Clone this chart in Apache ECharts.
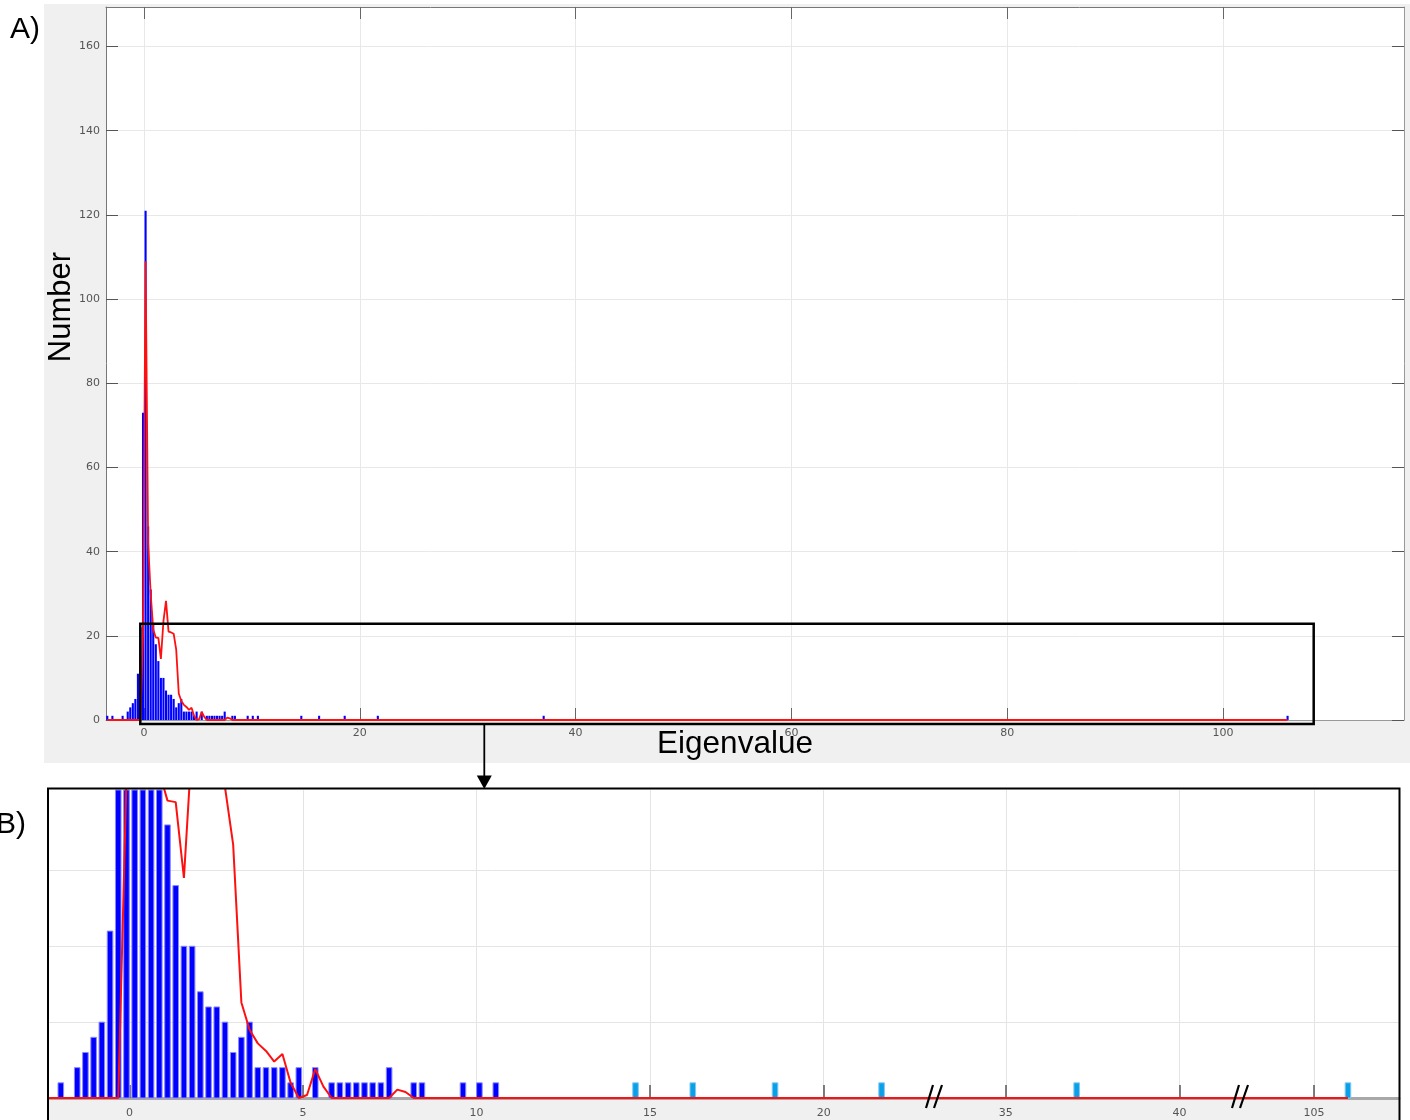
<!DOCTYPE html>
<html>
<head>
<meta charset="utf-8">
<script src="https://cdn.jsdelivr.net/npm/echarts@6/dist/echarts.min.js"></script>
<style>
  html, body { margin: 0; padding: 0; background: #fff; }
  #chart { width: 1410px; height: 1120px; }
</style>
</head>
<body>
<div id="chart"></div>
<script>
// Eigenvalue histogram: equal-width bins, the first one centred at firstBinCenter
const firstBinCenter = -3.399;
const binWidth = 0.2365;
const binCounts = [
  1, 0, 1, 0, 0, 0,
  1, 0, 2, 3, 4, 5, 11, 22, 73, 121,
  46, 31, 23, 18, 14, 10, 10, 7, 6, 6,
  5, 3, 4, 5, 2, 2, 2, 2, 1, 2,
  0, 2, 0, 1, 1, 1, 1, 1, 1, 1,
  2, 0, 0, 1, 1, 0, 0, 0, 0, 1,
  0, 1, 0, 1
];

// Reference density curve, sampled at the same bin centres
const densityCurve = [
  0, 0, 0, 0, 0, 0, 0, 0, 0, 0, 0, 0, 0, 0,
  21, 109, 42, 30, 21.5, 19.6, 19.5, 14.5, 23.5, 28.3,
  21, 20.8, 20.5, 16.7, 6.3, 4.5, 3.6, 3.1, 2.4, 2.9,
  1.0, 0, 0.2, 1.9, 0.75, 0, 0, 0, 0, 0,
  0, 0, 0, 0.55, 0.4, 0
];
const curveEnd = 105.98;   // the curve stays at zero out to the largest eigenvalue

// Isolated large eigenvalues (one each)
const outlierValues = [14.58, 16.23, 18.6, 21.67, 37.04, 105.98];
const outlierCounts = [1, 1, 1, 1, 1, 1];

// Tick labels
const xTicksA = [0, 20, 40, 60, 80, 100];
const yTicksA = [0, 20, 40, 60, 80, 100, 120, 140, 160];
const xTicksB = [[0, 5, 10, 15, 20], [35, 40], [105]];
const yGridB = [5, 10, 15];

// ---- build series data ----
const histData = binCounts.map((n, i) => [firstBinCenter + i * binWidth, n]);
const curveData = densityCurve.map((v, i) => [firstBinCenter + i * binWidth, v]);
curveData.push([curveEnd, 0]);
const outlierData = outlierValues.map((x, i) => [x, outlierCounts[i]]);

// ---- layout ----
const gridA = { left: 106, top: 7, width: 1298, height: 713 };
const rangeA = { xMin: -3.52, xMax: 116.77, yMax: 169.4 };
const bTop = 790, bHeight = 308, bMax = 20.3;
const segmentsB = [
  { left: 49, width: 885, min: -2.32, max: 23.18 },
  { left: 934, width: 306, min: 32.93, max: 41.745 },
  { left: 1240, width: 159, min: 102.87, max: 107.45 }
];

const tickFont = { fontFamily: 'DejaVu Sans', fontSize: 11, color: '#555' };
const gridLine = (color) => ({ show: true, showMinLine: true, showMaxLine: true, lineStyle: { color: color } });

function histRenderer(frac, fill, stroke, lw) {
  return function (params, api) {
    const x = api.value(0), n = api.value(1);
    if (!(n > 0)) return null;
    const half = binWidth * frac / 2;
    const a = api.coord([x - half, n]);
    const b = api.coord([x + half, 0]);
    const cs = params.coordSys;
    const shape = echarts.graphic.clipRectByRect(
      { x: a[0], y: a[1], width: b[0] - a[0], height: b[1] - a[1] },
      { x: cs.x, y: cs.y, width: cs.width, height: cs.height }
    );
    if (!shape || shape.width <= 0 || shape.height <= 0) return null;
    return { type: 'rect', shape: shape, style: { fill: fill, stroke: stroke, lineWidth: lw } };
  };
}

const grids = [
  Object.assign({ show: true, backgroundColor: '#fff', borderWidth: 0 }, gridA)
];
segmentsB.forEach(s => grids.push({
  show: true, backgroundColor: '#fff', borderWidth: 0,
  left: s.left, width: s.width, top: bTop, height: bHeight
}));

const xAxes = [
  {
    type: 'value', gridIndex: 0, min: rangeA.xMin, max: rangeA.xMax, splitNumber: 6,
    axisLine: { onZero: false, lineStyle: { color: '#999', width: 1 } },
    axisTick: { inside: true, length: 12, customValues: xTicksA, lineStyle: { color: '#666' } },
    axisLabel: Object.assign({ customValues: xTicksA, margin: 8 }, tickFont),
    splitLine: gridLine('#e8e8e8')
  },
  {
    type: 'value', gridIndex: 0, position: 'top', min: rangeA.xMin, max: rangeA.xMax, splitNumber: 6,
    axisLine: { onZero: false, lineStyle: { color: '#777', width: 1 } },
    axisTick: { inside: true, length: 12, customValues: xTicksA, lineStyle: { color: '#666' } },
    axisLabel: { show: false },
    splitLine: { show: false }
  }
];
const yAxes = [
  {
    type: 'value', gridIndex: 0, min: 0, max: rangeA.yMax, splitNumber: 8,
    axisLine: { show: true, onZero: false, lineStyle: { color: '#777', width: 1 } },
    axisTick: { show: true, inside: true, length: 12, customValues: yTicksA, lineStyle: { color: '#555' } },
    axisLabel: Object.assign({ customValues: yTicksA, margin: 6 }, tickFont),
    splitLine: gridLine('#e8e8e8')
  },
  {
    type: 'value', gridIndex: 0, position: 'right', min: 0, max: rangeA.yMax, splitNumber: 8,
    axisLine: { show: true, onZero: false, lineStyle: { color: '#999', width: 1 } },
    axisTick: { show: true, inside: true, length: 12, customValues: yTicksA, lineStyle: { color: '#555' } },
    axisLabel: { show: false },
    splitLine: { show: false }
  }
];
segmentsB.forEach((s, i) => {
  xAxes.push({
    type: 'value', gridIndex: i + 1, min: s.min, max: s.max, splitNumber: [5, 2, 1][i],
    axisLine: { onZero: false, lineStyle: { color: '#a8a8a8', width: 3 } },
    axisTick: { inside: true, length: 13, customValues: xTicksB[i], lineStyle: { color: '#555', width: 1.5 } },
    axisLabel: Object.assign({ customValues: xTicksB[i], margin: 10 }, tickFont),
    splitLine: gridLine('#e4e4e4')
  });
  yAxes.push({
    type: 'value', gridIndex: i + 1, min: 0, max: bMax, splitNumber: 4,
    axisLine: { show: false, onZero: false },
    axisTick: { show: false, customValues: yGridB },
    axisLabel: { show: false },
    splitLine: gridLine('#e4e4e4')
  });
});

const series = [
  {
    type: 'custom', xAxisIndex: 0, yAxisIndex: 0, data: histData,
    encode: { x: 0, y: 1 }, renderItem: histRenderer(0.82, '#0000ff', null, 0), z: 2, silent: true
  },
  {
    type: 'custom', xAxisIndex: 0, yAxisIndex: 0, data: outlierData,
    encode: { x: 0, y: 1 }, renderItem: histRenderer(0.82, '#0000ff', null, 0), z: 2, silent: true
  },
  {
    type: 'line', xAxisIndex: 0, yAxisIndex: 0, data: curveData, showSymbol: false,
    lineStyle: { color: '#ff1010', width: 1.8 }, z: 3, silent: true, clip: true
  }
];
segmentsB.forEach((s, i) => {
  series.push(
    {
      type: 'custom', xAxisIndex: i + 2, yAxisIndex: i + 2, data: histData,
      encode: { x: 0, y: 1 }, renderItem: histRenderer(0.68, '#0000ff', '#8a8aff', 1), z: 2, silent: true
    },
    {
      type: 'custom', xAxisIndex: i + 2, yAxisIndex: i + 2, data: outlierData,
      encode: { x: 0, y: 1 }, renderItem: histRenderer(0.68, '#0aa0e8', '#7fc8f2', 1), z: 2, silent: true
    },
    {
      type: 'line', xAxisIndex: i + 2, yAxisIndex: i + 2, data: curveData, showSymbol: false,
      lineStyle: { color: '#ff1010', width: 2 }, z: 3, silent: true, clip: true
    }
  );
});

// Decorations: panel backgrounds, zoom box, arrow, axis-break marks and titles
const titleFont = '"Liberation Sans", Arial, sans-serif';
const graphics = [
  { type: 'rect', shape: { x: 44, y: 4, width: 1366, height: 759 }, style: { fill: '#f0f0f0' }, z: -5, silent: true },
  { type: 'rect', shape: { x: 49, y: 1099.5, width: 1350, height: 25 }, style: { fill: '#f0f0f0' }, z: -5, silent: true },
  { type: 'rect', shape: { x: 48, y: 788.5, width: 1351.5, height: 340 }, style: { fill: null, stroke: '#000', lineWidth: 2 }, z: 20, silent: true },
  { type: 'rect', shape: { x: 140.3, y: 623.7, width: 1173.4, height: 100.3 }, style: { fill: null, stroke: '#000', lineWidth: 2.5 }, z: 20, silent: true },
  { type: 'line', shape: { x1: 484.3, y1: 724, x2: 484.3, y2: 777 }, style: { stroke: '#000', lineWidth: 1.8 }, z: 20, silent: true },
  { type: 'polygon', shape: { points: [[476.8, 775.5], [491.8, 775.5], [484.3, 789]] }, style: { fill: '#000' }, z: 20, silent: true },
  { type: 'text', x: 10, y: 30, style: { text: 'A)', font: '30px ' + titleFont, fill: '#000', align: 'left', verticalAlign: 'middle' }, z: 20, silent: true },
  { type: 'text', x: 26, y: 825, style: { text: 'B)', font: '30px ' + titleFont, fill: '#000', align: 'right', verticalAlign: 'middle' }, z: 20, silent: true },
  { type: 'text', x: 61, y: 307, rotation: Math.PI / 2, style: { text: 'Number', font: '31px ' + titleFont, fill: '#000', align: 'center', verticalAlign: 'middle' }, z: 20, silent: true },
  { type: 'text', x: 735, y: 744, style: { text: 'Eigenvalue', font: '31.5px ' + titleFont, fill: '#000', align: 'center', verticalAlign: 'middle' }, z: 20, silent: true }
];
[segmentsB[1].left, segmentsB[2].left].forEach(bx => {
  graphics.push(
    { type: 'line', shape: { x1: bx - 8, y1: 1108, x2: bx - 1, y2: 1085 }, style: { stroke: '#000', lineWidth: 2.2 }, z: 20, silent: true },
    { type: 'line', shape: { x1: bx, y1: 1108, x2: bx + 8, y2: 1085 }, style: { stroke: '#000', lineWidth: 2.2 }, z: 20, silent: true }
  );
});

const chart = echarts.init(document.getElementById('chart'), null, { renderer: 'canvas' });
chart.setOption({
  animation: false,
  backgroundColor: '#fff',
  grid: grids,
  xAxis: xAxes,
  yAxis: yAxes,
  series: series,
  graphic: { elements: graphics }
});
</script>
</body>
</html>
